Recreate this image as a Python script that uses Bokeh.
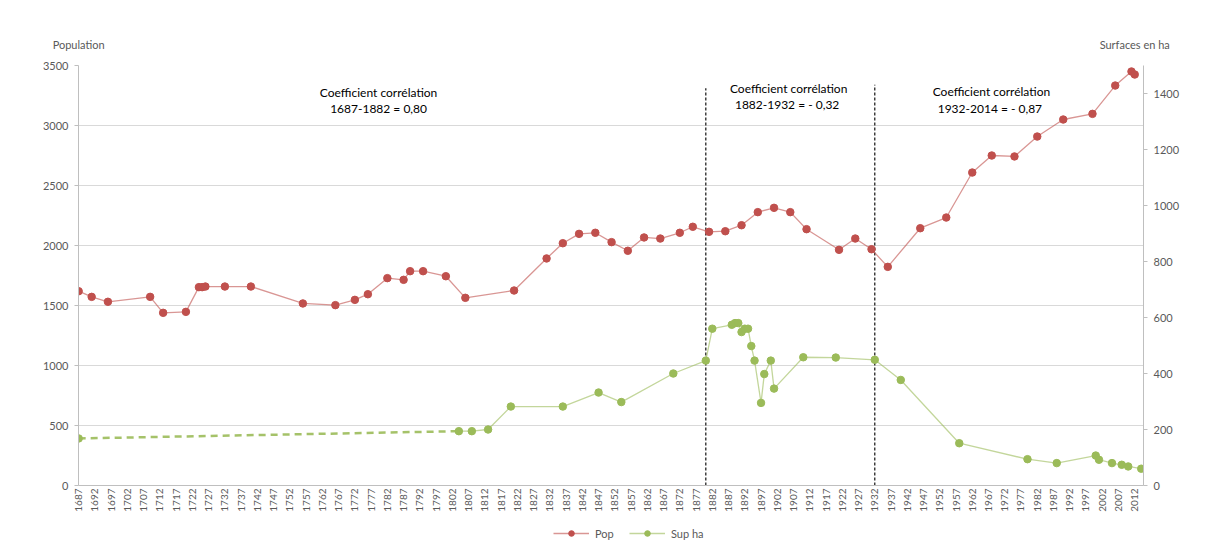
import numpy as np
from bokeh.plotting import figure
from bokeh.layouts import column
from bokeh.models import (Range1d, LinearAxis, FixedTicker, Label, Legend,
                          LegendItem, ColumnDataSource)
from bokeh.embed import file_html
from bokeh.resources import INLINE

# ---------------- data ----------------
pop_years = [1687, 1691, 1696, 1709, 1713, 1720, 1724, 1725, 1726, 1732,
             1740, 1756, 1766, 1772, 1776, 1782, 1787, 1789, 1793, 1800,
             1806, 1821, 1831, 1836, 1841, 1846, 1851, 1856, 1861, 1866,
             1872, 1876, 1881, 1886, 1891, 1896, 1901, 1906, 1911, 1921,
             1926, 1931, 1936, 1946, 1954, 1962, 1968, 1975, 1982, 1990,
             1999, 2006, 2011, 2012]
pop_values = [1619, 1572, 1531, 1572, 1439, 1447, 1653, 1653, 1658, 1658,
              1658, 1517, 1503, 1547, 1594, 1728, 1714, 1786, 1786, 1744,
              1564, 1625, 1892, 2019, 2097, 2106, 2028, 1956, 2067, 2058,
              2106, 2156, 2114, 2119, 2169, 2278, 2314, 2278, 2136, 1964,
              2058, 1969, 1822, 2144, 2233, 2608, 2750, 2742, 2908, 3050,
              3097, 3333, 3450, 3425]

sup_gap_years = [1687, 1804]
sup_gap_values = [168, 194]
sup_years = [1687, 1804, 1808, 1813, 1820, 1836, 1847, 1854, 1870, 1880,
             1882, 1888, 1889, 1890, 1891, 1892, 1893, 1894, 1895, 1897,
             1898, 1900, 1901, 1910, 1920, 1932, 1940, 1958, 1979, 1988,
             2000, 2001, 2005, 2008, 2010, 2014]
sup_values = [168, 194, 194, 200, 282, 282, 332, 298, 400, 446,
              560, 574, 580, 580, 548, 560, 560, 498, 446, 295,
              398, 446, 346, 458, 457, 449, 377, 151, 94, 80,
              107, 92, 80, 74, 68, 60]

x_tick_years = list(range(1687, 2013, 5))
pop_ticks = list(range(0, 3501, 500))
ha_ticks = list(range(0, 1401, 200))
divider_years = [1880, 1932]
divider_tops = [3310, 3340]

notes = ["Coefficient corrélation\n1687-1882 = 0,80",
         "Coefficient corrélation\n1882-1932  = - 0,32",
         "Coefficient corrélation\n1932-2014  = - 0,87"]
note_x = [1779.3, 1905.5, 1967.9]
note_y = [3208, 3242, 3212]

axis_titles = {1687: "Population", 2012: "Surfaces en ha"}
series_names = ["Pop", "Sup ha"]

# ---------------- styling ----------------
FONT = "Lato"
RED = "#C0504D"
GREEN = "#9BBB59"
GREY_TXT = "#595959"
AXIS_C = "#BFBFBF"
GRID_C = "#D9D9D9"

p = figure(frame_width=1065, frame_height=420, output_backend="svg",
           toolbar_location=None,
           x_range=Range1d(1686.95, 2014.7), y_range=Range1d(0, 3500),
           min_border_left=78, min_border_right=62, min_border_top=65,
           min_border_bottom=40)
p.outline_line_color = None
p.background_fill_color = "white"
p.border_fill_color = "white"

p.extra_y_ranges = {"ha": Range1d(0, 1500)}

# bottom axis
xa = p.below[0]
xa.ticker = FixedTicker(ticks=x_tick_years)
xa.major_label_orientation = np.pi / 2
xa.major_label_text_font = FONT
xa.major_label_text_font_size = "10px"
xa.major_label_text_color = GREY_TXT
xa.major_tick_line_color = None
xa.major_tick_out = 0
xa.major_tick_in = 0
xa.minor_tick_line_color = None
xa.minor_tick_out = 0
xa.axis_line_color = AXIS_C
xa.major_label_standoff = 3

# left axis
ya = p.left[0]
ya.ticker = FixedTicker(ticks=pop_ticks)
ya.major_label_text_font = FONT
ya.major_label_text_font_size = "11px"
ya.major_label_text_color = GREY_TXT
ya.axis_line_color = AXIS_C
ya.major_tick_line_color = AXIS_C
ya.major_tick_out = 4
ya.major_tick_in = 0
ya.minor_tick_line_color = None
ya.major_label_standoff = 6

# right axis
ax_r = LinearAxis(y_range_name="ha", ticker=FixedTicker(ticks=ha_ticks))
ax_r.major_label_text_font = FONT
ax_r.major_label_text_font_size = "11px"
ax_r.major_label_text_color = GREY_TXT
ax_r.axis_line_color = AXIS_C
ax_r.major_tick_line_color = AXIS_C
ax_r.major_tick_out = 4
ax_r.major_tick_in = 0
ax_r.minor_tick_line_color = None
ax_r.major_label_standoff = 6
p.add_layout(ax_r, "right")

# top "axis" carrying the two axis titles
ax_t = LinearAxis(ticker=FixedTicker(ticks=list(axis_titles.keys())),
                  major_label_overrides=axis_titles)
ax_t.axis_line_color = None
ax_t.major_tick_line_color = None
ax_t.major_tick_out = 0
ax_t.major_tick_in = 0
ax_t.minor_tick_line_color = None
ax_t.minor_tick_out = 0
ax_t.major_label_standoff = 15
ax_t.major_label_text_font = FONT
ax_t.major_label_text_font_size = "11px"
ax_t.major_label_text_color = GREY_TXT
p.add_layout(ax_t, "above")

p.xgrid.grid_line_color = None
p.ygrid.grid_line_color = GRID_C
p.ygrid.grid_line_width = 1

# dividers
p.segment(x0=divider_years, y0=[0, 0], x1=divider_years, y1=divider_tops,
          line_color="#222222", line_dash="3 2", line_width=1.3)

# series
pop_src = ColumnDataSource(dict(x=pop_years, y=pop_values))
sup_src = ColumnDataSource(dict(x=sup_years[1:], y=sup_values[1:]))

p.line(sup_gap_years, sup_gap_values, y_range_name="ha", line_color=GREEN,
       line_width=2.5, line_dash="7 5", line_alpha=0.9)
p.line("x", "y", source=sup_src, y_range_name="ha", line_color=GREEN,
       line_width=1.3, line_alpha=0.6)
p.scatter(sup_years, sup_values, y_range_name="ha", size=7.5,
          fill_color=GREEN, line_color=GREEN)

p.line("x", "y", source=pop_src, line_color=RED, line_width=1.3,
       line_alpha=0.6)
p.scatter("x", "y", source=pop_src, size=7.5, fill_color=RED,
          line_color=RED)

# annotation texts
for t, xx, yy in zip(notes, note_x, note_y):
    p.add_layout(Label(x=xx, y=yy, text=t, text_align="center",
                       text_baseline="middle", text_font=FONT,
                       text_font_size="12px", text_color="#000000",
                       text_line_height=1.1))

# ---------------- legend strip (separate small figure) ----------------
# The strip's ranges exclude the data, so only the legend swatches show.
lg = figure(width=1205, height=15, output_backend="svg", toolbar_location=None,
            x_range=Range1d(0, 1), y_range=Range1d(0, 1),
            x_axis_location=None, y_axis_location=None, min_border=0)
lg.outline_line_color = None
lg.xgrid.visible = False
lg.ygrid.visible = False
lg.background_fill_color = "white"
lg.border_fill_color = "white"

l_pop = lg.line("x", "y", source=pop_src, line_color=RED, line_width=1.3,
                line_alpha=0.6)
s_pop = lg.scatter("x", "y", source=pop_src, size=7.5, fill_color=RED,
                   line_color=RED)
l_sup = lg.line("x", "y", source=sup_src, line_color=GREEN, line_width=1.3,
                line_alpha=0.6)
s_sup = lg.scatter("x", "y", source=sup_src, size=7.5, fill_color=GREEN,
                   line_color=GREEN)

legend = Legend(items=[LegendItem(label=series_names[0], renderers=[l_pop, s_pop]),
                       LegendItem(label=series_names[1], renderers=[l_sup, s_sup])],
                orientation="horizontal", location=(475, 0), nrows=1,
                label_text_font=FONT, label_text_font_size="11px",
                label_text_color=GREY_TXT, glyph_width=36, glyph_height=14,
                label_height=14, padding=0, spacing=14, margin=0,
                border_line_color=None, background_fill_alpha=0,
                label_standoff=6)
lg.add_layout(legend, "center")

layout = column(p, lg, spacing=0)
open("out.html", "w").write(file_html(layout, INLINE))
